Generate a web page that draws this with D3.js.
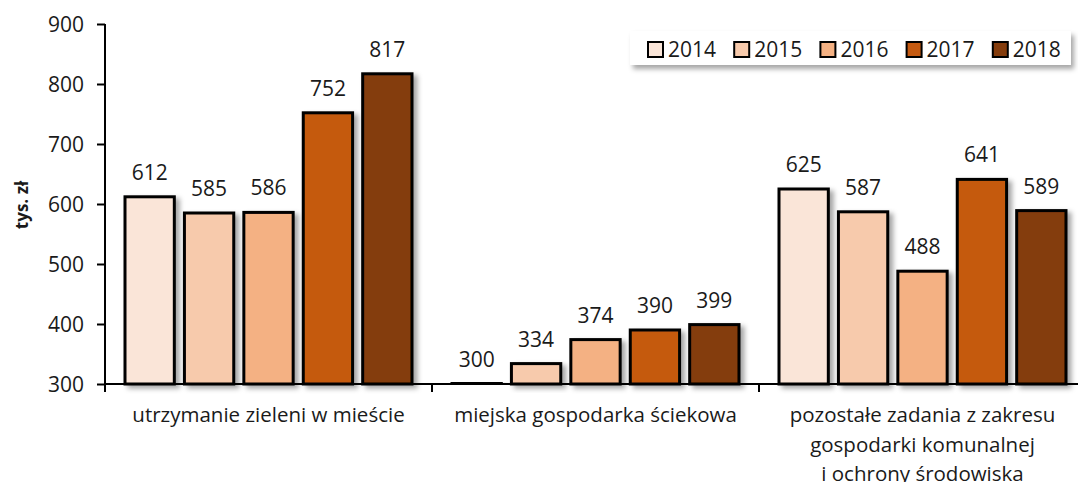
<!DOCTYPE html>
<html><head><meta charset="utf-8">
<script src="https://cdn.jsdelivr.net/npm/d3@7"></script>
<style>body{margin:0;background:#fff}svg{display:block}text{font-family:"Open Sans",sans-serif;fill:#1a1a1a}</style>
</head><body>
<script>
const categories = ["utrzymanie zieleni w mieście", "miejska gospodarka ściekowa", "pozostałe zadania z zakresu\ngospodarki komunalnej\ni ochrony środowiska"];
const years = ["2014", "2015", "2016", "2017", "2018"];
const v2014 = [612, 300, 625];
const v2015 = [585, 334, 587];
const v2016 = [586, 374, 488];
const v2017 = [752, 390, 641];
const v2018 = [817, 399, 589];
const yTicks = [300, 400, 500, 600, 700, 800, 900];
const colors = ["#FAE5D8", "#F7CAAC", "#F4B183", "#C55A11", "#843C0C"];
const series = [v2014, v2015, v2016, v2017, v2018];

const W = 1078, H = 482;
const svg = d3.select("body").append("svg").attr("width", W).attr("height", H);
const defs = svg.append("defs");
const f = defs.append("filter").attr("id","sh").attr("x","-20%").attr("y","-20%").attr("width","160%").attr("height","160%");
f.append("feDropShadow").attr("dx",4).attr("dy",3).attr("stdDeviation",2.5).attr("flood-color","#000").attr("flood-opacity",0.35);
const f2 = defs.append("filter").attr("id","sh2").attr("x","-10%").attr("y","-30%").attr("width","120%").attr("height","190%");
f2.append("feDropShadow").attr("dx",3).attr("dy",4).attr("stdDeviation",2.5).attr("flood-color","#000").attr("flood-opacity",0.35);

const x0 = d3.scaleBand().domain(categories).range([105, 1086]).padding(0);
const x1 = d3.scaleBand().domain(years).range([20, x0.bandwidth() - 20]).paddingInner(0.17);
const y = d3.scaleLinear().domain([300, 900]).range([384, 24]);

// bars
const rows = [];
categories.forEach((c, ci) => years.forEach((yr, yi) => rows.push({c, yr, yi, v: series[yi][ci]})));
svg.append("g").selectAll("rect").data(rows).join("rect")
  .attr("x", d => x0(d.c) + x1(d.yr))
  .attr("y", d => Math.min(y(d.v), y(300) - 1))
  .attr("width", x1.bandwidth())
  .attr("height", d => Math.max(y(300) - y(d.v), 1))
  .attr("fill", d => colors[d.yi])
  .attr("stroke", "#000").attr("stroke-width", 3)
  .attr("filter", "url(#sh)");
svg.append("g").selectAll("text").data(rows).join("text")
  .attr("x", d => x0(d.c) + x1(d.yr) + x1.bandwidth()/2)
  .attr("y", d => y(d.v) - 17)
  .attr("text-anchor", "middle").attr("font-size", 21)
  .text(d => d.v);

// y axis
const ya = svg.append("g").attr("transform", "translate(105,0)")
  .call(d3.axisLeft(y).tickValues(yTicks).tickSize(8).tickPadding(13));
ya.select(".domain").attr("stroke","#000").attr("stroke-width",2).attr("d","M0,24V392");
ya.selectAll(".tick line").attr("stroke","#000").attr("stroke-width",2);
ya.selectAll(".tick text").attr("font-size",21).attr("font-family","'Open Sans',sans-serif").attr("fill","#1a1a1a").attr("dy","0.34em");

// x axis
const xa = svg.append("g").attr("transform", "translate(0,384)");
xa.append("line").attr("x1",105).attr("x2",W).attr("stroke","#000").attr("stroke-width",2);
xa.selectAll("line.t").data(categories.slice(1)).join("line").attr("class","t")
  .attr("x1", d => x0(d)).attr("x2", d => x0(d)).attr("y1",0).attr("y2",8)
  .attr("stroke","#000").attr("stroke-width",2);
const cl = xa.selectAll("text.c").data(categories).join("text").attr("class","c")
  .attr("text-anchor","middle").attr("font-size",20.5)
  .attr("transform", d => `translate(${x0(d) + x0.bandwidth()/2},38)`);
cl.selectAll("tspan").data(d => d.split("\n")).join("tspan")
  .attr("x",0).attr("y",(d,i) => i*29.5).text(d => d);

// y title
svg.append("text").attr("transform","translate(28,205) rotate(-90)")
  .attr("text-anchor","middle").attr("font-size",17).attr("font-weight","bold").text("tys. zł");

// legend
const lg = svg.append("g");
lg.append("rect").attr("x",630).attr("y",31).attr("width",441).attr("height",34).attr("fill","#fff").attr("filter","url(#sh2)");
const li = lg.selectAll("g.i").data(years).join("g").attr("class","i")
  .attr("transform", (d,i) => `translate(${648 + i*86.2},0)`);
li.append("rect").attr("x",0).attr("y",42).attr("width",15).attr("height",15)
  .attr("fill",(d,i)=>colors[i]).attr("stroke","#000").attr("stroke-width",2);
li.append("text").attr("x",20).attr("y",57).attr("font-size",21).text(d => d);
</script>
</body></html>
